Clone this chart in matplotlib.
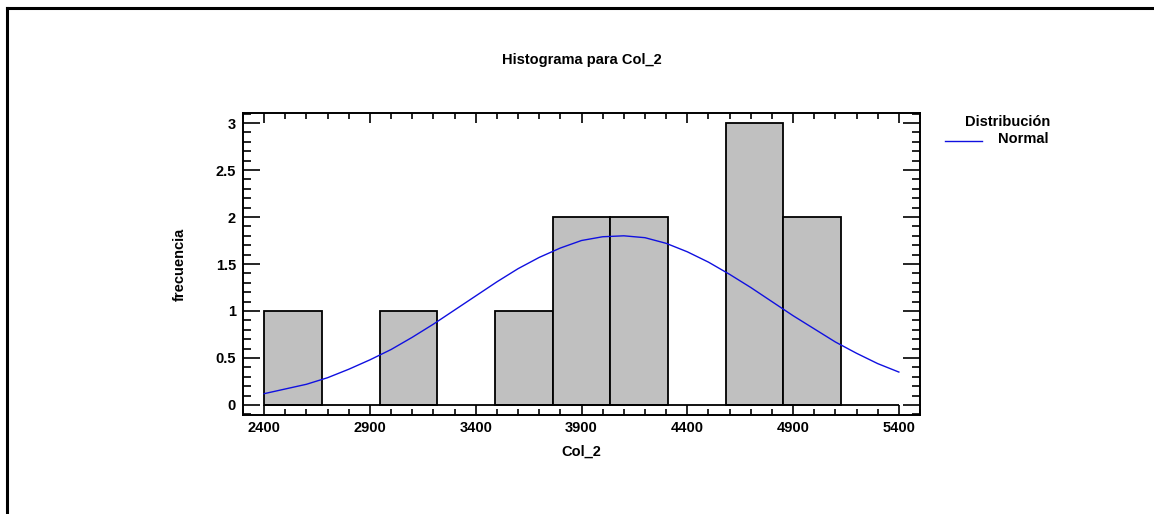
import matplotlib
matplotlib.use("Agg")
import matplotlib.pyplot as plt
from matplotlib.lines import Line2D
from matplotlib.ticker import MultipleLocator

# Histogram bins (11 equal bins between 2400 and 5400) and counts
BIN_LOW = 2400
BIN_HIGH = 5400
N_BINS = 11
counts = [1, 0, 1, 0, 1, 2, 2, 0, 3, 2, 0]

# Fitted normal curve, scaled to frequency
curve_x = [2400, 2500, 2600, 2700, 2800, 2900, 3000, 3100, 3200, 3300, 3400,
           3500, 3600, 3700, 3800, 3900, 4000, 4100, 4200, 4300, 4400,
           4500, 4600, 4700, 4800, 4900, 5000, 5100, 5200, 5300, 5400]
curve_y = [0.12, 0.17, 0.22, 0.29, 0.38, 0.48, 0.59, 0.72, 0.86, 1.01, 1.16,
           1.31, 1.45, 1.57, 1.67, 1.75, 1.79, 1.80, 1.78, 1.72, 1.63,
           1.52, 1.39, 1.25, 1.10, 0.95, 0.81, 0.67, 0.55, 0.44, 0.35]

x_ticks = [2400, 2900, 3400, 3900, 4400, 4900, 5400]
y_ticks = [0, 0.5, 1, 1.5, 2, 2.5, 3]

plt.rcParams["font.family"] = ["Liberation Sans", "DejaVu Sans"]
plt.rcParams["font.weight"] = "bold"
FS = 10.5

W, H = 1154, 514
fig = plt.figure(figsize=(W / 100, H / 100), dpi=100)

# outer frame: top and left edges only
fig.add_artist(Line2D([6.5 / W, 1.0], [1 - 7.5 / H, 1 - 7.5 / H], color="black", lw=2.2))
fig.add_artist(Line2D([6.5 / W, 6.5 / W], [1 - 7.5 / H, 0.0], color="black", lw=2.2))

ax = fig.add_axes([243 / W, 1 - 415 / H, (920 - 243) / W, (415 - 113) / H])

width = (BIN_HIGH - BIN_LOW) / N_BINS
lefts = [BIN_LOW + i * width for i in range(N_BINS)]
for left, c in zip(lefts, counts):
    if c > 0:
        ax.bar(left, c, width=width, align="edge", color="#c0c0c0",
               edgecolor="black", linewidth=1.3, zorder=2)
ax.hlines(0, BIN_LOW, BIN_HIGH, color="black", lw=1.3, zorder=2)

ax.plot(curve_x, curve_y, color="#1010e0", lw=1.0, zorder=3)

ax.set_xlim(2300, 5500)
ax.set_ylim(-0.107, 3.107)
ax.set_xticks(x_ticks)
ax.set_yticks(y_ticks)
ax.set_yticklabels(["0", "0.5", "1", "1.5", "2", "2.5", "3"])
ax.xaxis.set_minor_locator(MultipleLocator(100))
ax.yaxis.set_minor_locator(MultipleLocator(0.1))
ax.tick_params(axis="x", which="major", direction="in", length=7, width=1.2,
               top=True, labelsize=FS, pad=4)
ax.tick_params(axis="x", which="minor", direction="in", length=4, width=1.2, top=True)
ax.tick_params(axis="y", which="major", direction="in", length=12, width=1.2,
               right=True, labelsize=FS, pad=5)
ax.tick_params(axis="y", which="minor", direction="in", length=6, width=1.2, right=True)
for s in ax.spines.values():
    s.set_linewidth(1.4)

ax.set_xlabel("Col_2", fontsize=FS, fontweight="bold", va="center")
ax.xaxis.set_label_coords(0.5, (415 - 452) / 302)
ax.set_ylabel("frecuencia", fontsize=FS, fontweight="bold", va="center")
ax.yaxis.set_label_coords((180 - 243) / 677, 0.5)
fig.text(582 / W, 1 - 60 / H, "Histograma para Col_2", ha="center", va="center",
         fontsize=FS, fontweight="bold")

# legend
fig.text(1008 / W, 1 - 122 / H, "Distribución", ha="center", va="center",
         fontsize=FS, fontweight="bold")
fig.text(998 / W, 1 - 139 / H, "Normal", ha="left", va="center",
         fontsize=FS, fontweight="bold")
fig.add_artist(Line2D([945 / W, 982 / W], [1 - 141 / H, 1 - 141 / H], color="#1010e0", lw=1.0))

fig.savefig("out.png", dpi=100)
